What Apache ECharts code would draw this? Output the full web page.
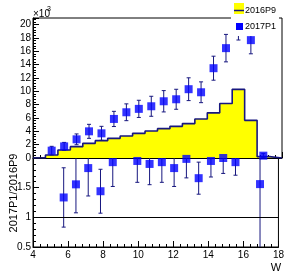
<!DOCTYPE html>
<html><head><meta charset="utf-8">
<script src="https://cdn.jsdelivr.net/npm/echarts@6/dist/echarts.min.js"></script>
<style>html,body{margin:0;padding:0;background:#fff}#c{width:287px;height:273px}</style>
</head><body><div id="c"></div>
<script>
// Histogram 2016P9 (x10^3), bins of width 0.7 from 4 to 18
const binLowEdges = [4.0,4.7,5.4,6.1,6.8,7.5,8.2,8.9,9.6,10.3,11.0,11.7,12.4,13.1,13.8,14.5,15.2,15.9,16.6,17.3];
const binHighEdge = 18.0;
const hist2016P9 = [0,0.45,1.2,1.7,2.2,2.6,2.95,3.3,3.7,4.06,4.4,4.75,5.16,5.86,6.77,8.17,10.3,5.65,0.2,0];

// Points 2017P1 (x10^3)
const pointX   = [5.05,5.75,6.45,7.15,7.85,8.55,9.25,9.95,10.65,11.35,12.05,12.75,13.45,14.15,14.85,15.55,16.25,16.95];
const p2017P1  = [1.10,1.74,2.80,4.00,3.70,5.86,6.86,7.37,7.76,8.51,8.81,10.32,9.86,13.47,16.48,19.8,17.68,0.35];
const p2017Err = [0.65,0.60,0.81,1.05,1.05,1.14,1.26,1.29,1.50,1.60,1.50,1.71,1.56,1.80,2.06,2.10,2.05,0.30];

// Ratio 2017P1/2016P9 (points inside the frame)
const ratioX   = [5.75,6.45,7.15,7.85,8.55,9.95,10.65,11.35,12.05,12.75,13.45,14.15,14.85,15.55,16.95];
const ratioVal = [1.335,1.556,1.83,1.44,1.93,1.95,1.90,1.93,1.83,1.985,1.66,1.95,2.00,1.93,1.56];
const ratioErr = [0.50,0.48,0.47,0.37,0.41,0.36,0.35,0.34,0.31,0.32,0.27,0.27,0.26,0.22,1.60];

const FONT = "'Liberation Sans', Arial, sans-serif";
const NAVY = '#17177f';

const histData = binLowEdges.map((e,i)=>[e,hist2016P9[i]]).concat([[binHighEdge,0]]);
const ptData = pointX.map((x,i)=>[x,p2017P1[i],p2017Err[i]]);
const ratData = ratioX.map((x,i)=>[x,ratioVal[i],ratioErr[i]]);

function errRender(params, api){
  const x=api.value(0), y=api.value(1), e=api.value(2);
  const t=api.coord([x,y+e]), b=api.coord([x,y-e]);
  const c=2;
  const st={stroke:NAVY,lineWidth:1};
  return {type:'group',children:[
    {type:'line',shape:{x1:t[0],y1:t[1],x2:b[0],y2:b[1]},style:st},
    {type:'line',shape:{x1:t[0]-c,y1:t[1],x2:t[0]+c,y2:t[1]},style:st},
    {type:'line',shape:{x1:b[0]-c,y1:b[1],x2:b[0]+c,y2:b[1]},style:st}
  ]};
}

function xAx(grid, labels){
  return {type:'value',gridIndex:grid,min:4,max:18,interval:2,
    axisLine:{lineStyle:{color:'#000',width:1}},
    axisTick:{inside:true,length:6,lineStyle:{color:'#000'}},
    minorTick:{show:true,splitNumber:5,length:3,lineStyle:{color:'#000'}},
    splitLine:{show:false},minorSplitLine:{show:false},
    axisLabel:{show:labels,fontSize:10,color:'#000',fontFamily:FONT,margin:3}};
}
function yAx(grid,min,max,interval){
  return {type:'value',gridIndex:grid,min:min,max:max,interval:interval,
    axisLine:{lineStyle:{color:'#000',width:1}},
    axisTick:{inside:true,length:6,lineStyle:{color:'#000'}},
    minorTick:{show:true,splitNumber:5,length:3,lineStyle:{color:'#000'}},
    splitLine:{show:false},minorSplitLine:{show:false},
    axisLabel:{fontSize:10,color:'#000',fontFamily:FONT,margin:2,showMaxLabel:false}};
}

const chart = echarts.init(document.getElementById('c'));
chart.setOption({
  animation:false,
  backgroundColor:'#fff',
  grid:[
    {left:33,right:5,top:18,height:140,show:true,borderColor:'#000',borderWidth:1,backgroundColor:'transparent'},
    {left:33,right:5,top:158,height:89,show:true,borderColor:'#000',borderWidth:1,backgroundColor:'transparent'}
  ],
  xAxis:[xAx(0,false),xAx(1,true)],
  yAxis:[yAx(0,0,21,2),yAx(1,0.5,2,0.5)],
  series:[
    {name:'2016P9',type:'line',xAxisIndex:0,yAxisIndex:0,step:'end',data:histData,
     symbol:'none',clip:true,z:1,
     lineStyle:{color:NAVY,width:1.6},areaStyle:{color:'#ffff00',opacity:1}},
    {type:'custom',xAxisIndex:0,yAxisIndex:0,data:ptData,renderItem:errRender,clip:true,z:2,encode:{x:0,y:1}},
    {name:'2017P1',type:'scatter',xAxisIndex:0,yAxisIndex:0,data:ptData.map(d=>[d[0],d[1]]),
     symbol:'rect',symbolSize:8,itemStyle:{color:'#0000ff'},clip:true,z:3},
    {type:'custom',xAxisIndex:1,yAxisIndex:1,data:ratData,renderItem:errRender,clip:true,z:2,encode:{x:0,y:1}},
    {type:'scatter',xAxisIndex:1,yAxisIndex:1,data:ratData.map(d=>[d[0],d[1]]),
     symbol:'rect',symbolSize:8,itemStyle:{color:'#0000ff'},clip:true,z:3,
     markLine:{silent:true,symbol:['none','none'],label:{show:false},
       lineStyle:{color:'#000',width:1,type:'solid'},data:[{yAxis:1}]}}
  ],
  graphic:[
    {type:'text',x:33,y:14,z:100,style:{text:'×10',font:'10px '+FONT,fill:'#000',textVerticalAlign:'middle'}},
    {type:'text',x:47,y:9,z:100,style:{text:'3',font:'7px '+FONT,fill:'#000',textVerticalAlign:'middle'}},
    {type:'text',x:14,y:193,rotation:Math.PI/2,z:100,style:{text:'2017P1/2016P9',font:'11px '+FONT,fill:'#000',textAlign:'center',textVerticalAlign:'middle'}},
    {type:'text',x:276,y:268,z:100,style:{text:'W',font:'11px '+FONT,fill:'#000',textAlign:'center',textVerticalAlign:'middle'}},
    {type:'rect',shape:{x:231,y:0,width:48,height:36},z:100,style:{fill:'#fff'}},
    {type:'rect',shape:{x:234,y:3,width:10,height:11},z:101,style:{fill:'#ffff00'}},
    {type:'line',shape:{x1:234,y1:10.5,x2:244,y2:10.5},z:102,style:{stroke:NAVY,lineWidth:1.5}},
    {type:'text',x:245,y:11,z:102,style:{text:'2016P9',font:'9px '+FONT,fill:'#000',textVerticalAlign:'middle'}},
    {type:'rect',shape:{x:236,y:23,width:7,height:7},z:101,style:{fill:'#0000ff'}},
    {type:'text',x:245,y:27,z:102,style:{text:'2017P1',font:'9px '+FONT,fill:'#000',textVerticalAlign:'middle'}}
  ]
});
</script></body></html>
